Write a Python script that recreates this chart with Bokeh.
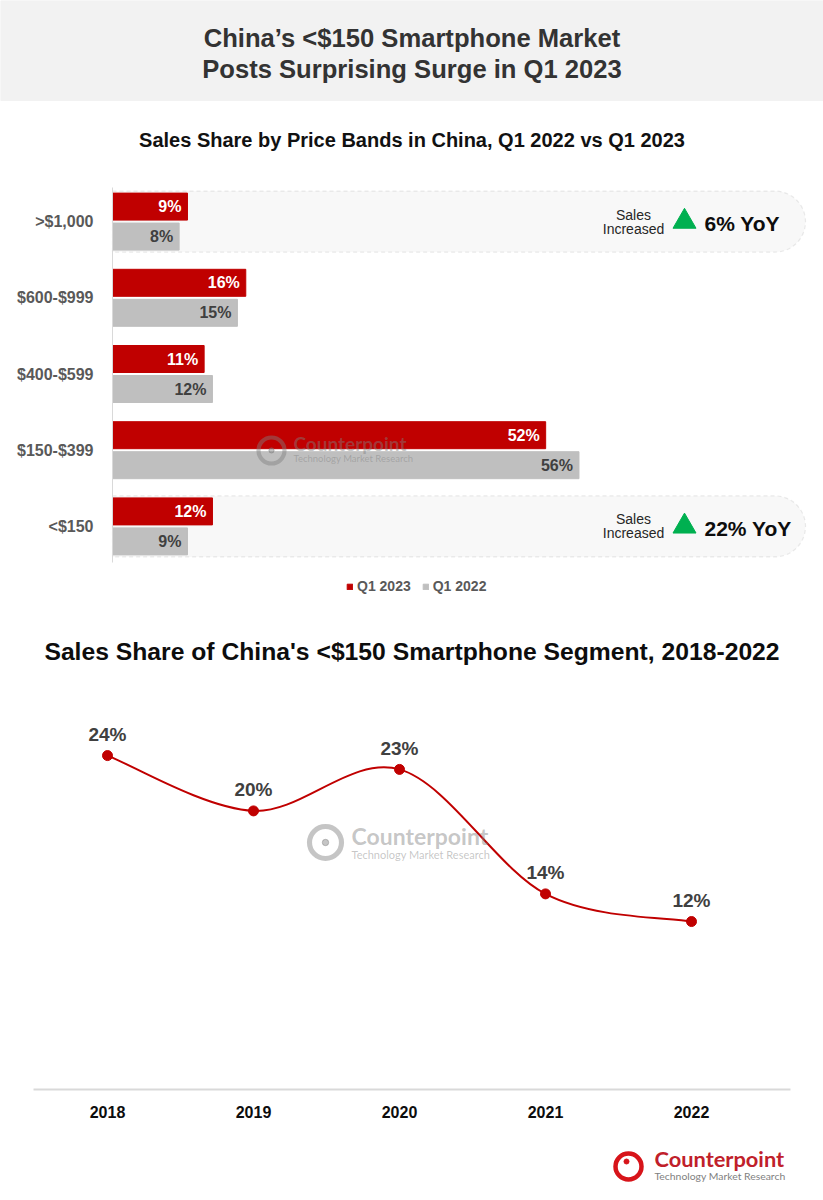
import numpy as np
from bokeh.plotting import figure
from bokeh.models import (ColumnDataSource, Range1d, FixedTicker, Legend, LegendItem,
                          BoxAnnotation)
from bokeh.layouts import column
from bokeh.core.properties import value
from bokeh.embed import file_html
from bokeh.resources import INLINE

# ---------------- data ----------------
main_title = ["China’s <$150 Smartphone Market", "Posts Surprising Surge in Q1 2023"]
bar_title = "Sales Share by Price Bands in China, Q1 2022 vs Q1 2023"
price_bands = [">$1,000", "$600-$999", "$400-$599", "$150-$399", "<$150"]
share_q1_2023 = [9, 16, 11, 52, 12]
share_q1_2022 = [8, 15, 12, 56, 9]
callout_bands = [">$1,000", "<$150"]
callout_growth = ["6% YoY", "22% YoY"]

line_title = "Sales Share of China's <$150 Smartphone Segment, 2018-2022"
years = ["2018", "2019", "2020", "2021", "2022"]
low_end_share = [24, 20, 23, 14, 12]

# ---------------- style ----------------
FONT = "Liberation Sans"
LOGO_FONT = "Lato"
RED = "#c00000"
GRAY = "#bfbfbf"
W = 823
PAGE_X0 = 0   # page x of figure left edge


def blank(h):
    p = figure(width=W, height=h, x_range=Range1d(0, W), y_range=Range1d(h, 0),
               output_backend="svg", toolbar_location=None,
               x_axis_location=None, y_axis_location=None, min_border=0)
    p.grid.visible = False
    p.outline_line_color = None
    return p


def watermark(p, x, y, tx, ty1, ty2, ring, big, small, color="#7f7f7f", alpha=0.45):
    p.scatter(x=[x], y=[y], marker="circle", size=ring, fill_color=None,
              line_color=color, line_width=ring * 0.16, alpha=alpha)
    p.scatter(x=[x], y=[y], marker="circle", size=ring * 0.2, color=color, alpha=alpha)
    p.text(x=[tx], y=[ty1], text=["Counterpoint"], text_font=value(LOGO_FONT),
           text_font_style="bold", text_font_size=big, text_color=color, text_alpha=alpha,
           text_align="left", text_baseline="middle")
    p.text(x=[tx], y=[ty2], text=["Technology Market Research"], text_font=value(LOGO_FONT),
           text_font_size=small, text_color=color, text_alpha=alpha,
           text_align="left", text_baseline="middle")


# ---------------- header ----------------
pa = blank(160)
pa.quad(left=[0], right=[W], top=[0], bottom=[100], color="#f2f2f2")
pa.text(x=[411.5, 411.5], y=[37, 68], text=main_title, text_font=value(FONT),
        text_font_style="bold", text_font_size="25.6px", text_color="#333333",
        text_align="center", text_baseline="middle")
pa.text(x=[411.5], y=[139], text=[bar_title], text_font=value(FONT),
        text_font_style="bold", text_font_size="20px", text_color="#111111",
        text_align="center", text_baseline="middle")

# ---------------- bar chart ----------------
PXP = 8.33          # px per percent
PXC = 76.2          # px per category
BH = 27 / PXC
OFF = 15 / PXC
AX0 = 112           # page x of the 0% line
PB_TOP, PB_BOT = 160, 610
pos = np.arange(len(price_bands))[::-1].astype(float)

bx = lambda px: (px - AX0) / PXP
by = lambda py: 4.5 - (py - 183) / PXC

pb = figure(width=W, height=PB_BOT - PB_TOP,
            x_range=Range1d(bx(PAGE_X0), bx(PAGE_X0 + W)),
            y_range=Range1d(by(PB_BOT), by(PB_TOP)),
            output_backend="svg", toolbar_location=None, x_axis_location=None,
            min_border=0)
pb.grid.visible = False
pb.outline_line_color = None

for band in callout_bands:
    c = pos[price_bands.index(band)]
    pb.add_layout(BoxAnnotation(left=0, right=bx(805), bottom=c - 0.4, top=c + 0.4,
                                fill_color="#f8f8f8", fill_alpha=1.0, line_color="#bdbdbd",
                                line_dash="4 3", line_width=1.2, level="underlay",
                                border_radius=dict(top_left=0, top_right=31,
                                                   bottom_right=31, bottom_left=0)))

src = ColumnDataSource(dict(
    band=price_bands, y23=pos + OFF, y22=pos - OFF,
    q23=share_q1_2023, q22=share_q1_2022,
    l23=[f"{v}%" for v in share_q1_2023], l22=[f"{v}%" for v in share_q1_2022]))
r23 = pb.hbar(y="y23", left=0, right="q23", height=BH, color=RED, source=src)
r22 = pb.hbar(y="y22", left=0, right="q22", height=BH, color=GRAY, source=src)
pb.text(x="q23", y="y23", text="l23", source=src, x_offset=-6, text_align="right",
        text_baseline="middle", text_font=value(FONT), text_font_style="bold",
        text_font_size="16px", text_color="white")
pb.text(x="q22", y="y22", text="l22", source=src, x_offset=-6, text_align="right",
        text_baseline="middle", text_font=value(FONT), text_font_style="bold",
        text_font_size="16px", text_color="#404040")

csrc = ColumnDataSource(dict(
    cy=[pos[price_bands.index(b)] for b in callout_bands], txt=callout_growth,
    xs=[bx(633)] * 2, xt=[bx(684)] * 2, xg=[bx(704)] * 2,
    s1=["Sales"] * 2, s2=["Increased"] * 2))
pb.text(x="xs", y="cy", text="s1", source=csrc, y_offset=-7, text_align="center",
        text_baseline="middle", text_font=value(FONT), text_font_size="14px",
        text_color="#262626")
pb.text(x="xs", y="cy", text="s2", source=csrc, y_offset=7, text_align="center",
        text_baseline="middle", text_font=value(FONT), text_font_size="14px",
        text_color="#262626")
pb.scatter(x="xt", y="cy", source=csrc, marker="triangle", size=23, color="#00b050")
pb.text(x="xg", y="cy", text="txt", source=csrc, y_offset=2, text_align="left",
        text_baseline="middle", text_font=value(FONT), text_font_style="bold",
        text_font_size="21px", text_color="#0d0d0d")

pb.yaxis.fixed_location = 0
pb.yaxis.bounds = (by(562), by(187))
pb.yaxis.ticker = FixedTicker(ticks=list(pos))
pb.yaxis.major_label_overrides = {int(p): b for p, b in zip(pos, price_bands)}
pb.yaxis.axis_line_color = "#d9d9d9"
pb.yaxis.major_tick_line_color = None
pb.yaxis.minor_tick_line_color = None
pb.yaxis.major_label_standoff = 13
pb.yaxis.major_label_text_font = FONT
pb.yaxis.major_label_text_font_style = "bold"
pb.yaxis.major_label_text_font_size = "16px"
pb.yaxis.major_label_text_color = "#595959"

watermark(pb, bx(271), by(450), bx(293), by(443), by(458), 26, "19px", "9.5px")

legend = Legend(items=[LegendItem(label="Q1 2023", renderers=[r23]),
                       LegendItem(label="Q1 2022", renderers=[r22])],
                orientation="horizontal", location=(346 - PAGE_X0, PB_BOT - 594),
                glyph_width=7, glyph_height=7,
                label_standoff=4, spacing=11, padding=0, margin=0, label_height=16,
                label_text_font=FONT, label_text_font_style="bold",
                label_text_font_size="14px", label_text_color="#595959",
                border_line_color=None, background_fill_alpha=0)
pb.add_layout(legend)

# ---------------- line chart title ----------------
pc0 = blank(90)
pc0.text(x=[411.5], y=[41], text=[line_title], text_font=value(FONT),
         text_font_style="bold", text_font_size="24.7px", text_color="#0d0d0d",
         text_align="center", text_baseline="middle")

# ---------------- line chart ----------------
PXY = 13.83
PXX = 146.0
X0 = 107          # page x of first year
Y0 = 1087         # page y of 0%
PC_TOP, AXIS_Y = 700, 1089
PC_H = 430
lx = lambda px: (px - X0) / PXX
ly = lambda py: (Y0 - py) / PXY

xi = np.arange(len(years), dtype=float)
ys = np.array(low_end_share, dtype=float)
pc = figure(width=W, height=PC_H,
            x_range=Range1d(lx(PAGE_X0), lx(PAGE_X0 + W)),
            y_range=Range1d(ly(AXIS_Y), ly(PC_TOP)),
            output_backend="svg", toolbar_location=None, y_axis_location=None,
            min_border_left=0, min_border_right=0, min_border_top=0,
            min_border_bottom=PC_H - (AXIS_Y - PC_TOP))
pc.grid.visible = False
pc.outline_line_color = None

# smooth (Catmull-Rom) curve through the data points
P = np.column_stack([xi, ys])
Pe = np.vstack([P[0], P, P[-1]])
n = len(P)
c1 = P[:-1] + (Pe[2:n + 1] - Pe[0:n - 1]) / 6.0
c2 = P[1:] - (Pe[3:n + 2] - Pe[1:n]) / 6.0
pc.bezier(x0=P[:-1, 0], y0=P[:-1, 1], x1=P[1:, 0], y1=P[1:, 1],
          cx0=c1[:, 0], cy0=c1[:, 1], cx1=c2[:, 0], cy1=c2[:, 1],
          line_color=RED, line_width=2)

lsrc = ColumnDataSource(dict(x=xi, y=ys, lab=[f"{v}%" for v in low_end_share]))
pc.scatter(x="x", y="y", source=lsrc, size=10, color=RED)
pc.text(x="x", y="y", text="lab", source=lsrc, y_offset=-21, text_align="center",
        text_baseline="middle", text_font=value(FONT), text_font_style="bold",
        text_font_size="19px", text_color="#404040")

pc.xaxis.ticker = FixedTicker(ticks=list(xi))
pc.xaxis.bounds = (lx(33), lx(790))
pc.xaxis.major_label_overrides = {int(i): y for i, y in zip(xi, years)}
pc.xaxis.axis_line_color = "#d9d9d9"
pc.xaxis.axis_line_width = 2
pc.xaxis.major_tick_line_color = None
pc.xaxis.minor_tick_line_color = None
pc.xaxis.major_label_standoff = 10
pc.xaxis.major_label_text_font = FONT
pc.xaxis.major_label_text_font_style = "bold"
pc.xaxis.major_label_text_font_size = "16px"
pc.xaxis.major_label_text_color = "#0d0d0d"

watermark(pc, lx(325), ly(842), lx(351), ly(835), ly(854), 32, "23px", "11px")

# ---------------- logo ----------------
pd_ = blank(70)
pd_.scatter(x=[628], y=[36], marker="circle", size=26, fill_color=None,
            line_color="#d7141a", line_width=4.5)
pd_.scatter(x=[626], y=[31], marker="circle", size=5, color="#d7141a")
pd_.text(x=[654], y=[28], text=["Counterpoint"], text_font=value(LOGO_FONT),
         text_font_style="bold", text_font_size="21.8px", text_color="#c0202a",
         text_align="left", text_baseline="middle")
pd_.text(x=[654], y=[45], text=["Technology Market Research"], text_font=value(LOGO_FONT),
         text_font_size="10.4px", text_color="#7f7f7f",
         text_align="left", text_baseline="middle")

layout = column(pa, pb, pc0, pc, pd_, spacing=0)
open("out.html", "w").write(file_html(layout, INLINE))
